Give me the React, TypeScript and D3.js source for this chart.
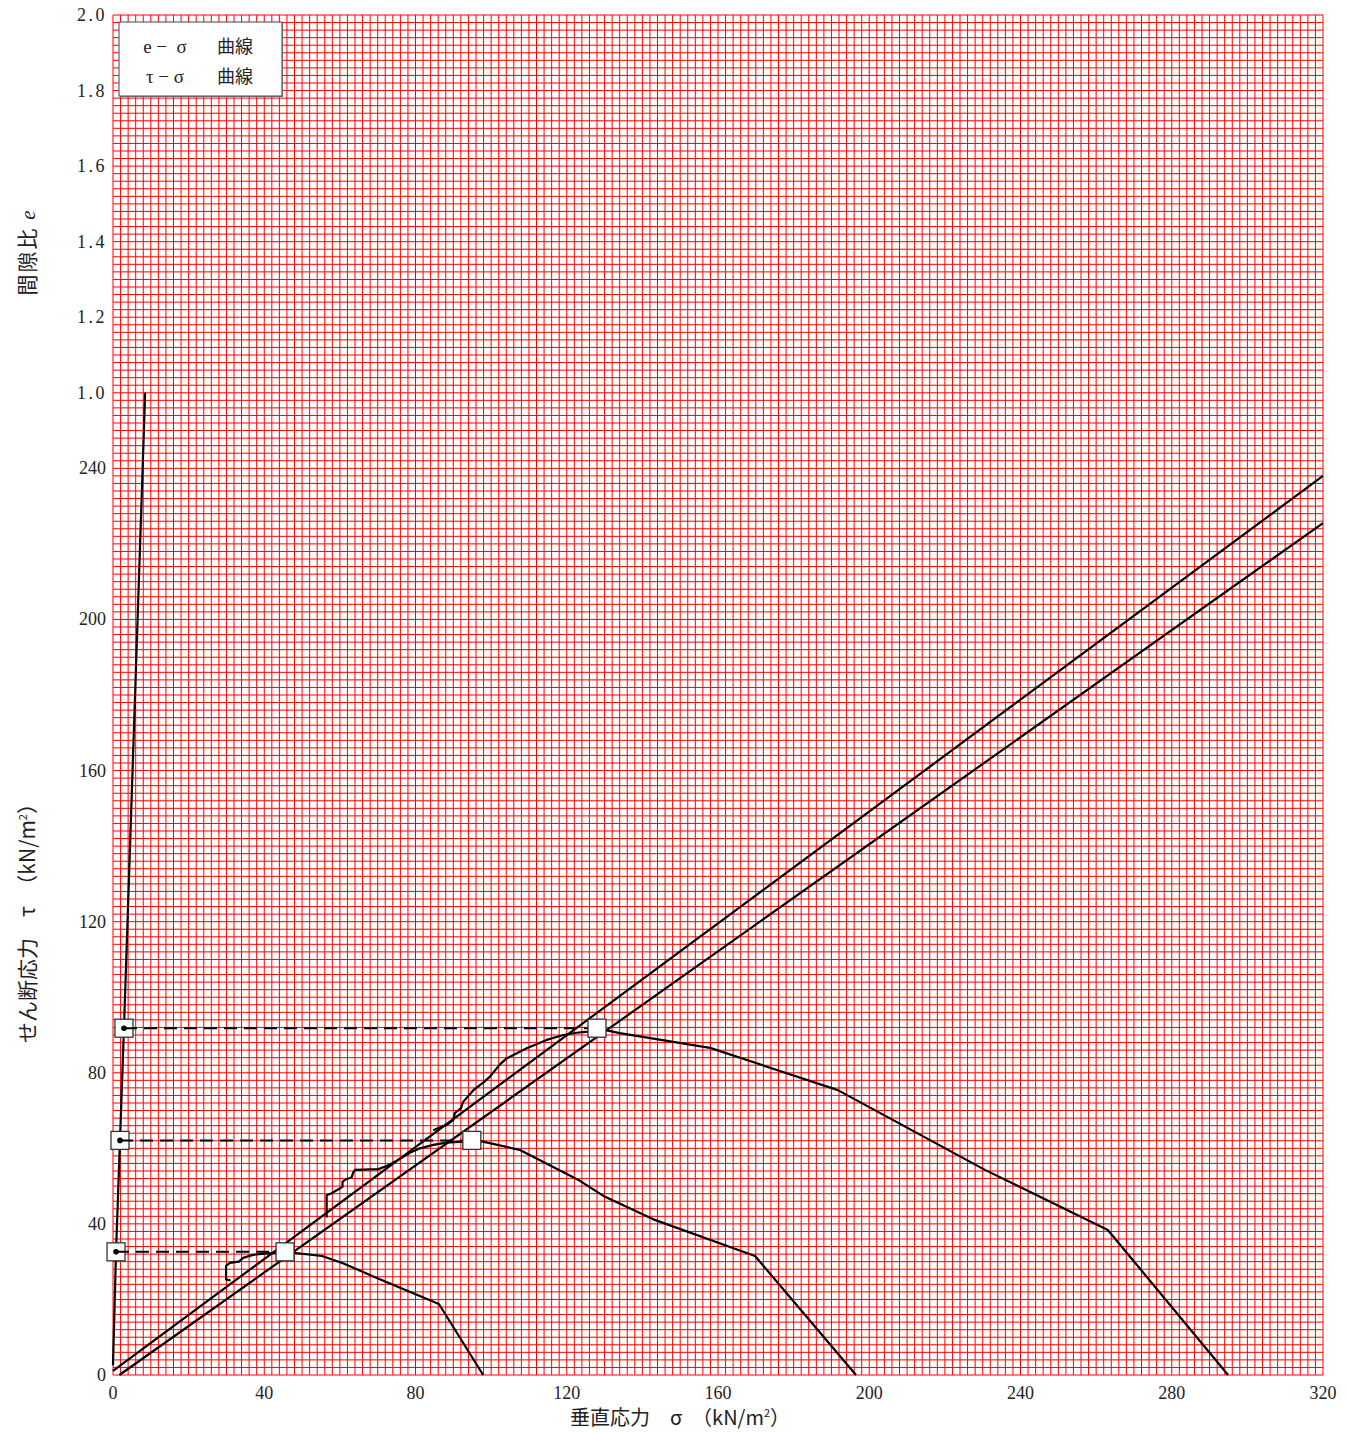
import { useEffect, useRef } from "react"
import * as d3 from "d3"

// axis ticks
const sigmaTicks = [0, 40, 80, 120, 160, 200, 240, 280, 320]
const tauTicks = [0, 40, 80, 120, 160, 200, 240]
const eTicks = [1.0, 1.2, 1.4, 1.6, 1.8, 2.0]

// e-σ curve (plotted on the shared vertical scale, τ units)
const eCurveSigma = [0, 0.8, 1.85, 2.9, 8.5]
const eCurveTau = [2.6, 32.6, 62.1, 91.8, 260]

// failure envelopes
const upperEnvSigma = [0, 320]
const upperEnvTau = [1.1, 238]
const lowerEnvSigma = [1.7, 320]
const lowerEnvTau = [0, 225.5]

// peak points
const peakSigma = [45.5, 94.9, 128.0]
const peakTau = [32.6, 62.1, 91.8]
const peakDotSigma = [0.8, 1.85, 2.9]

// τ-σ stress paths
const pathASigma = [31.1, 29.9, 29.9, 30.9, 33.3, 34.4, 37.0, 40.7, 43.1, 45.5, 55.3, 60.8, 69.3, 86.2, 97.9]
const pathATau = [25.0, 25.3, 28.9, 29.7, 30.0, 31.0, 31.8, 32.2, 32.3, 32.6, 31.5, 29.6, 25.9, 18.8, 0]

const pathBSigma = [56.5, 56.5, 57.8, 60.7, 60.7, 61.6, 63.1, 63.5, 64.0, 70.2, 72.4, 75.0, 78.5, 81.2, 84.7, 88.2, 92.6, 94.9, 97.2, 107.5, 123.5, 129.7, 142.9, 169.8, 196.5]
const pathBTau = [41.7, 47.6, 48.1, 49.8, 51.2, 51.8, 52.3, 53.5, 54.3, 54.5, 55.3, 56.7, 58.8, 60.0, 60.9, 61.5, 61.8, 62.1, 61.9, 59.6, 51.4, 47.4, 41.2, 31.5, 0]

const pathCSigma = [84.7, 86.5, 88.3, 90.0, 90.4, 92.0, 92.6, 95.3, 97.9, 99.7, 102.4, 104.1, 109.4, 114.7, 119.1, 122.6, 125.7, 128.0, 130.3, 134.0, 157.9, 191.7, 230.6, 263.1, 294.9]
const pathCTau = [64.8, 65.6, 66.2, 67.5, 69.3, 70.6, 72.3, 75.4, 77.4, 79.0, 82.3, 83.8, 86.5, 88.7, 90.0, 90.6, 90.9, 91.8, 91.3, 90.5, 86.6, 75.4, 54.3, 38.4, 0]

const legendItems = ["e −  σ", "τ − σ"]

export default function App() {
  const svgRef = useRef<SVGSVGElement>(null)

  useEffect(() => {
    if (!svgRef.current) return

    const svg = d3.select(svgRef.current)
    svg.selectAll("*").remove()

    const width = 1346
    const height = 1432
    svg.attr("width", width).attr("height", height)

    const serif = "'Liberation Serif', 'DejaVu Serif', serif"
    const jp = "'Noto Sans CJK JP', sans-serif"

    const x = d3.scaleLinear().domain([0, 320]).range([113, 1323])
    const y = d3.scaleLinear().domain([0, 360]).range([1375, 15])
    // void ratio scale sits on top of the τ scale
    const yE = d3.scaleLinear().domain([1.0, 2.0]).range([y(260), y(360)])

    // red grid, every 2 units
    const grid = svg.append("g")
    grid
      .selectAll("line.v")
      .data(d3.range(0, 321, 2))
      .enter()
      .append("line")
      .attr("x1", (d) => x(d))
      .attr("x2", (d) => x(d))
      .attr("y1", y(0))
      .attr("y2", y(360))
      .attr("stroke", "#ff0000")
      .attr("stroke-width", 1)
    grid
      .selectAll("line.h")
      .data(d3.range(0, 361, 2))
      .enter()
      .append("line")
      .attr("x1", x(0))
      .attr("x2", x(320))
      .attr("y1", (d) => y(d))
      .attr("y2", (d) => y(d))
      .attr("stroke", "#ff0000")
      .attr("stroke-width", 1)

    // tick labels
    svg
      .append("g")
      .selectAll("text")
      .data(sigmaTicks)
      .enter()
      .append("text")
      .attr("x", (d) => x(d))
      .attr("y", y(0) + 24)
      .attr("text-anchor", "middle")
      .style("font-family", serif)
      .style("font-size", "18px")
      .style("fill", "#222")
      .text((d) => d)

    svg
      .append("g")
      .selectAll("text")
      .data(tauTicks)
      .enter()
      .append("text")
      .attr("x", 106)
      .attr("y", (d) => y(d) + 6)
      .attr("text-anchor", "end")
      .style("font-family", serif)
      .style("font-size", "18px")
      .style("fill", "#222")
      .text((d) => d)

    svg
      .append("g")
      .selectAll("text")
      .data(eTicks)
      .enter()
      .append("text")
      .attr("x", 107)
      .attr("y", (d) => yE(d) + 6)
      .attr("text-anchor", "end")
      .style("font-family", serif)
      .style("font-size", "18px")
      .style("letter-spacing", "2.5px")
      .style("fill", "#222")
      .text((d) => d.toFixed(1))

    // axis titles
    const xTitle = svg
      .append("text")
      .attr("x", 680)
      .attr("y", 1425)
      .attr("text-anchor", "middle")
      .style("font-family", jp)
      .style("font-size", "20px")
      .style("fill", "#222")
    xTitle.append("tspan").text("垂直応力　σ　（kN/m")
    xTitle.append("tspan").attr("dy", -8).style("font-size", "11px").text("2")
    xTitle.append("tspan").attr("dy", 8).text("）")

    const eTitle = svg
      .append("text")
      .attr("transform", "translate(35,252) rotate(-90)")
      .attr("text-anchor", "middle")
      .style("font-family", jp)
      .style("font-size", "21px")
      .style("letter-spacing", "2px")
      .style("fill", "#222")
    eTitle.append("tspan").text("間隙比 ")
    eTitle
      .append("tspan")
      .style("font-family", serif)
      .style("font-style", "italic")
      .text("e")

    const yTitle = svg
      .append("text")
      .attr("transform", "translate(35,918) rotate(-90)")
      .attr("text-anchor", "middle")
      .style("font-family", jp)
      .style("font-size", "21px")
      .style("fill", "#222")
    yTitle.append("tspan").text("せん断応力　τ　（kN/m")
    yTitle.append("tspan").attr("dy", -8).style("font-size", "11px").text("2")
    yTitle.append("tspan").attr("dy", 8).text("）")

    const line = d3
      .line<[number, number]>()
      .x((d) => x(d[0]))
      .y((d) => y(d[1]))

    const zip = (s: number[], t: number[]) => s.map((v, i) => [v, t[i]] as [number, number])

    const curves = [
      zip(eCurveSigma, eCurveTau),
      zip(upperEnvSigma, upperEnvTau),
      zip(lowerEnvSigma, lowerEnvTau),
      zip(pathASigma, pathATau),
      zip(pathBSigma, pathBTau),
      zip(pathCSigma, pathCTau),
    ]

    svg
      .append("g")
      .selectAll("path")
      .data(curves)
      .enter()
      .append("path")
      .attr("d", (d) => line(d))
      .attr("fill", "none")
      .attr("stroke", "#000")
      .attr("stroke-width", 2.2)
      .attr("stroke-linejoin", "round")

    const boxSize = 18

    // small boxes on e-σ curve
    svg
      .append("g")
      .selectAll("rect")
      .data(peakDotSigma)
      .enter()
      .append("rect")
      .attr("x", (d) => x(d) - boxSize / 2)
      .attr("y", (d, i) => y(peakTau[i]) - boxSize / 2)
      .attr("width", boxSize)
      .attr("height", boxSize)
      .attr("fill", "#fff")
      .attr("stroke", "#333")
      .attr("stroke-width", 1.3)

    // dashed projection lines
    svg
      .append("g")
      .selectAll("line")
      .data(peakTau)
      .enter()
      .append("line")
      .attr("x1", (d, i) => x(peakDotSigma[i]))
      .attr("x2", (d, i) => x(peakSigma[i]))
      .attr("y1", (d) => y(d))
      .attr("y2", (d) => y(d))
      .attr("stroke", "#000")
      .attr("stroke-width", 2)
      .attr("stroke-dasharray", "13,7")

    svg
      .append("g")
      .selectAll("circle")
      .data(peakDotSigma)
      .enter()
      .append("circle")
      .attr("cx", (d) => x(d))
      .attr("cy", (d, i) => y(peakTau[i]))
      .attr("r", 2.8)
      .attr("fill", "#000")

    // peak boxes
    svg
      .append("g")
      .selectAll("rect")
      .data(peakSigma)
      .enter()
      .append("rect")
      .attr("x", (d) => x(d) - boxSize / 2)
      .attr("y", (d, i) => y(peakTau[i]) - boxSize / 2)
      .attr("width", boxSize)
      .attr("height", boxSize)
      .attr("fill", "#fff")
      .attr("stroke", "#333")
      .attr("stroke-width", 1.3)

    // legend
    const legend = svg.append("g").attr("transform", "translate(119,22)")
    legend
      .append("rect")
      .attr("x", 1)
      .attr("y", 1)
      .attr("width", 163)
      .attr("height", 74)
      .attr("fill", "#888")
    legend
      .append("rect")
      .attr("width", 163)
      .attr("height", 74)
      .attr("fill", "#fff")
      .attr("stroke", "#444")
      .attr("stroke-width", 1)

    const rows = legend
      .selectAll(".legend-item")
      .data(legendItems)
      .enter()
      .append("g")
      .attr("class", "legend-item")
      .attr("transform", (d, i) => `translate(0, ${31 + i * 30})`)

    rows
      .append("text")
      .attr("x", 46)
      .attr("text-anchor", "middle")
      .style("font-family", serif)
      .style("font-size", "19px")
      .style("white-space", "pre")
      .style("fill", "#222")
      .text((d) => d)

    rows
      .append("text")
      .attr("x", 98)
      .style("font-family", jp)
      .style("font-size", "18px")
      .style("fill", "#222")
      .text("曲線")
  }, [])

  return (
    <svg
      ref={svgRef}
      style={{ position: "absolute", left: 0, top: 0, background: "#fff" }}
    ></svg>
  )
}
